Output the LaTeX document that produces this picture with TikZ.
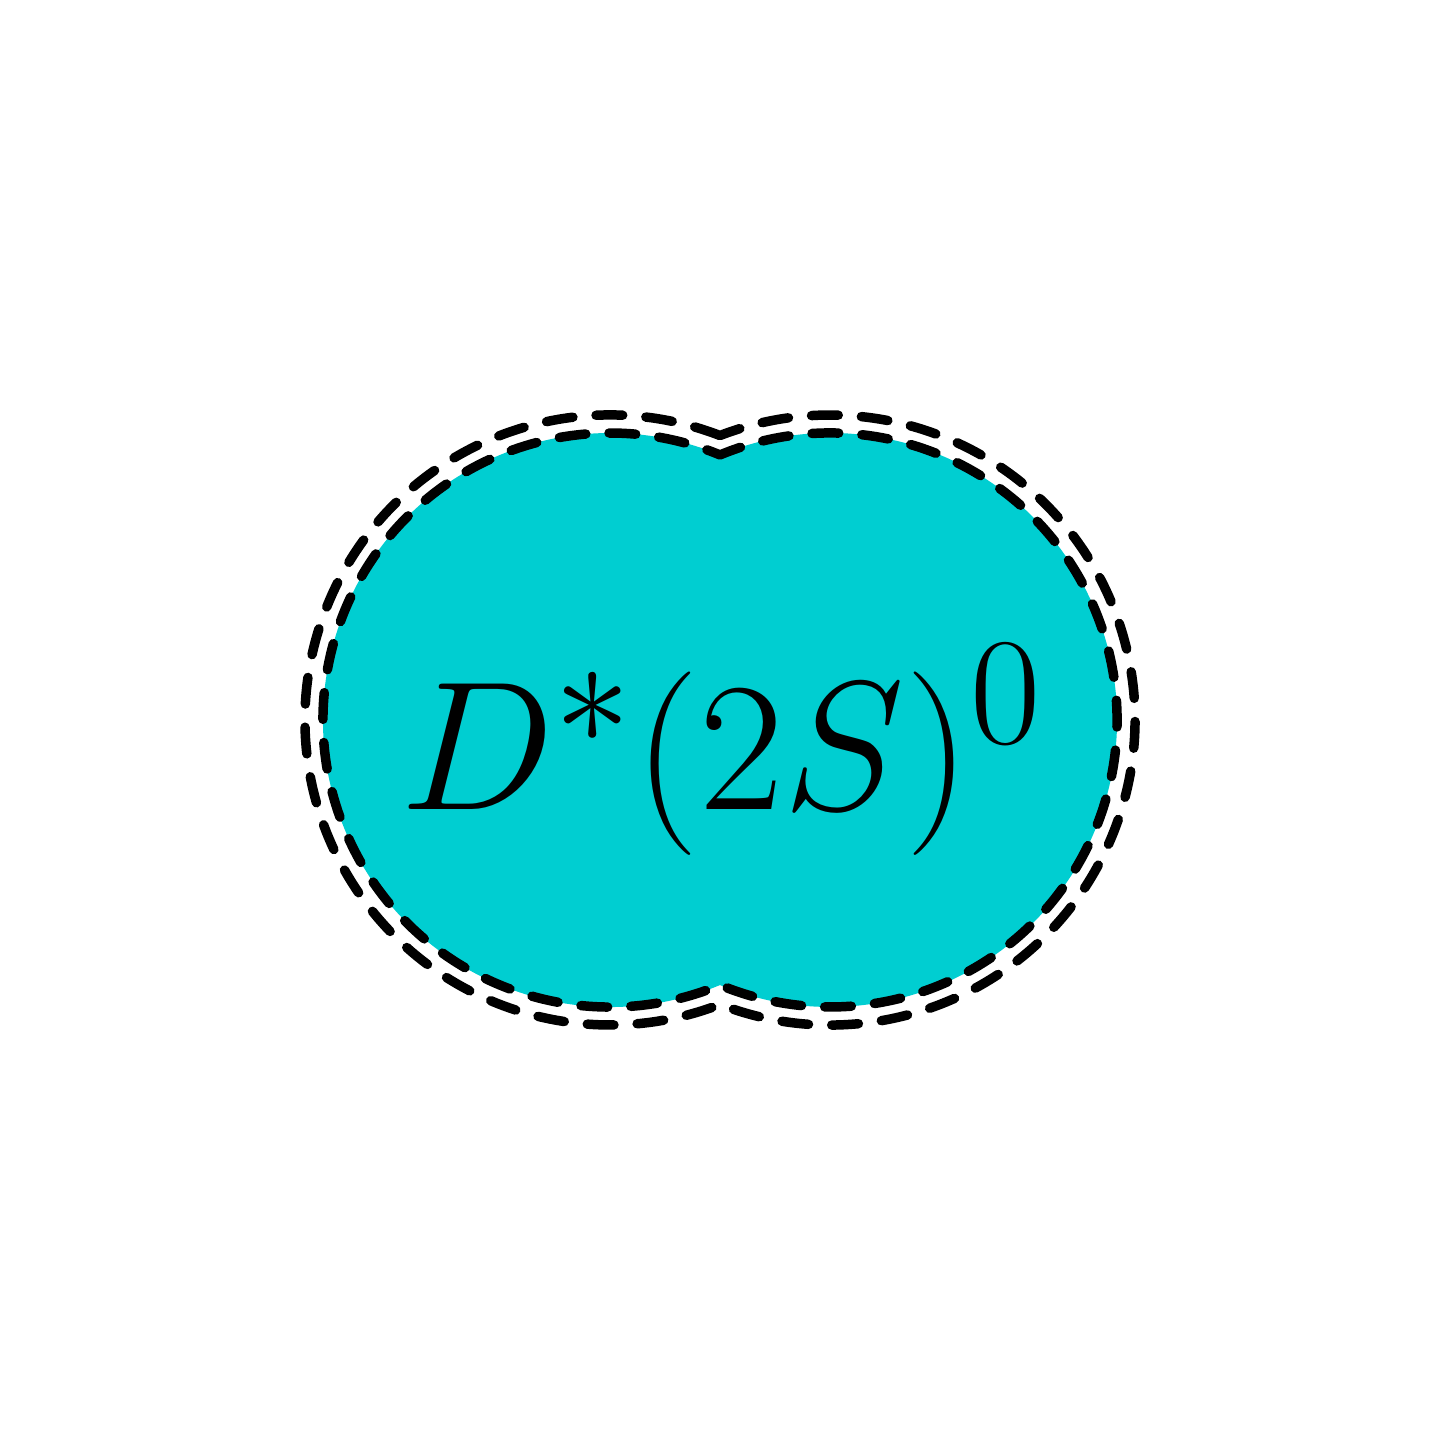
\RequirePackage{fix-cm}
\documentclass[tikz,border=0pt]{standalone}
\definecolor{blobfill}{RGB}{0,206,209}
\begin{document}
\begin{tikzpicture}[
  outline/.style={draw=black, line width=2.7pt, dash pattern=on 7.6pt off 6.6pt, line cap=round, line join=round},
]
\useasboundingbox (0,0) rectangle (14.4,14.4);
% inner outline with fill (union of two circles, r=2.87)
\path[fill=blobfill, outline, dash phase=1.4pt] (6.10,7.20) ++(67.46:2.87)
  arc[start angle=112.54, end angle=-112.54, radius=2.87]
  arc[start angle=-67.46, end angle=-292.54, radius=2.87] -- cycle;
% outer outline (r=3.05)
\path[outline] (6.10,7.20) ++(68.86:3.05)
  arc[start angle=68.86, end angle=291.14, radius=3.05]
  arc[start angle=-111.14, end angle=111.14, radius=3.05] -- cycle;
\node[anchor=base, inner sep=0pt, font=\Huge, scale=2.10, transform shape] (label) at (7.22,6.30) {$D^*(2S)^0$};
\end{tikzpicture}
\end{document}
